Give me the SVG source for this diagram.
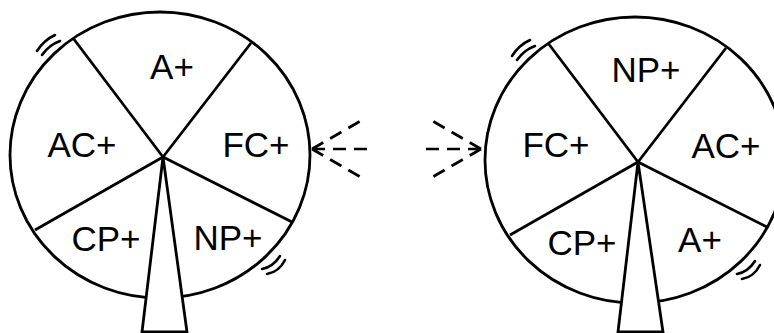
<svg xmlns="http://www.w3.org/2000/svg" width="774" height="333" viewBox="0 0 774 333">
<style>
.ln{fill:none;stroke:#000;stroke-width:2.8}
.trunk{fill:#fff;stroke:#000;stroke-width:2.8;stroke-linejoin:miter}
.mk{fill:none;stroke:#000;stroke-width:2.6;stroke-linecap:round}
.lb{font-family:"Liberation Sans",Arial,sans-serif;font-size:35px;fill:#000;text-anchor:middle}
.dash{fill:none;stroke:#000;stroke-width:2.7;stroke-dasharray:13 8}
</style>
<rect width="774" height="333" fill="#fff"/>
<g id="wheel-left">
<ellipse class="ln" cx="160" cy="155" rx="150" ry="143"/>
<path class="ln" d="M163,157 L73,38 M163,157 L251,43 M163,157 L35,230 M163,157 L292,222"/>
<polygon class="trunk" points="163,157 142,332 187,332"/>
<path class="mk" d="M42,55 Q49,45 60,41 M37,51 Q44,40 55,35"/>
<path class="mk" d="M262,269 Q273,267 280,256 M267,274 Q279,272 285,260"/>
<text class="lb" x="172" y="79">A+</text>
<text class="lb" x="82" y="157">AC+</text>
<text class="lb" x="256" y="157">FC+</text>
<text class="lb" x="106" y="251">CP+</text>
<text class="lb" x="228" y="250">NP+</text>
</g>
<g id="wheel-right">
<ellipse class="ln" cx="635" cy="160" rx="150" ry="143"/>
<path class="ln" d="M638,162 L548,43 M638,162 L726,48 M638,162 L510,235 M638,162 L767,227"/>
<polygon class="trunk" points="638,162 618,332 663,332"/>
<path class="mk" d="M517,60 Q524,50 535,46 M512,56 Q519,45 530,40"/>
<path class="mk" d="M737,274 Q748,272 755,261 M742,279 Q754,277 760,265"/>
<text class="lb" x="646" y="82">NP+</text>
<text class="lb" x="556" y="157">FC+</text>
<text class="lb" x="726" y="158">AC+</text>
<text class="lb" x="582" y="255">CP+</text>
<text class="lb" x="700" y="252">A+</text>
</g>
<g id="connectors">
<path class="dash" d="M312,149 L359.6,121.5 M312,149 L367,149 M312,149 L359.6,176.5"/>
<path class="dash" d="M481,149 L433.4,121.5 M481,149 L426,149 M481,149 L433.4,176.5"/>
</g>
</svg>
